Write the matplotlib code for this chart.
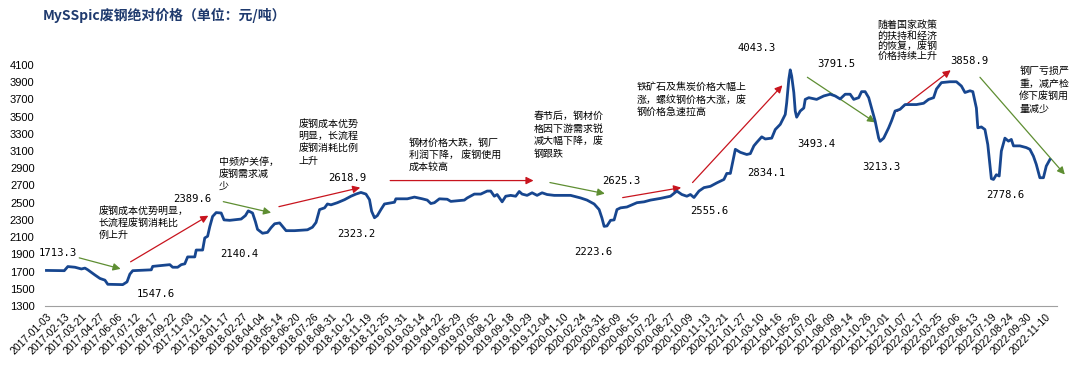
import matplotlib.pyplot as plt
from matplotlib.patches import FancyArrowPatch

# trading-day index (25 days between date labels) and price, yuan/ton
days = [0, 25, 30, 40, 49, 54, 58, 68, 75, 82, 86, 107, 113, 117, 121, 147, 149, 161, 173, 177,
        184, 189, 194, 198, 208, 210, 219, 222, 226, 229, 233, 238, 245, 249, 257, 273, 279, 283,
        289, 293, 296, 303, 310, 315, 320, 327, 331, 336, 348, 366, 373, 378, 383, 390, 394, 399,
        408, 418, 427, 434, 441, 448, 453, 456, 460, 464, 469, 474, 488, 490, 506, 516, 527, 534,
        539, 544, 551, 562, 567, 586, 590, 600, 609, 618, 623, 628, 632, 639, 644, 651, 658, 663,
        667, 674, 681, 688, 695, 702, 712, 735, 749, 758, 768, 775, 779, 782, 786, 791, 796, 800,
        805, 814, 821, 828, 838, 847, 861, 875, 884, 891, 898, 903, 908, 915, 922, 931, 940, 950,
        954, 959, 963, 966, 973, 982, 987, 992, 996, 1003, 1008, 1017, 1022, 1029, 1036, 1038,
        1041, 1043, 1045, 1048, 1050, 1052, 1057, 1062, 1064, 1069, 1080, 1090, 1099, 1106, 1113,
        1120, 1127, 1132, 1139, 1143, 1148, 1153, 1157, 1162, 1167, 1169, 1174, 1181, 1185, 1190,
        1197, 1204, 1220, 1230, 1237, 1244, 1248, 1255, 1267, 1276, 1283, 1288, 1295, 1299, 1304,
        1306, 1311, 1316, 1320, 1325, 1328, 1332, 1336, 1339, 1344, 1349, 1353, 1356, 1365, 1374,
        1379, 1384, 1388, 1393, 1398, 1402, 1407]
prices = [1713, 1710, 1758, 1750, 1730, 1740, 1720, 1660, 1620, 1600, 1552, 1548, 1580, 1670, 1710,
          1720, 1760, 1770, 1780, 1750, 1750, 1780, 1790, 1870, 1870, 1950, 1950, 2090, 2110, 2220,
          2340, 2385, 2380, 2300, 2295, 2310, 2350, 2405, 2380, 2280, 2190, 2145, 2155, 2210, 2255,
          2265, 2225, 2175, 2175, 2185, 2215, 2270, 2420, 2440, 2485, 2475, 2500, 2535, 2575, 2600,
          2619, 2600, 2535, 2400, 2325, 2350, 2420, 2485, 2505, 2545, 2545, 2565, 2545, 2530, 2490,
          2500, 2545, 2540, 2515, 2530, 2555, 2600, 2600, 2635, 2635, 2575, 2595, 2510, 2575, 2585,
          2575, 2630, 2600, 2585, 2615, 2585, 2615, 2595, 2585, 2585, 2555, 2530, 2485, 2420, 2320,
          2225, 2230, 2295, 2300, 2420, 2440, 2450, 2475, 2500, 2510, 2530, 2550, 2575, 2635, 2595,
          2575, 2595, 2560, 2635, 2675, 2690, 2730, 2770, 2840, 2840, 3000, 3120, 3085, 3060, 3070,
          3160, 3200, 3265, 3240, 3250, 3350, 3410, 3525, 3660, 3935, 4043, 3970, 3780, 3565, 3493,
          3565, 3600, 3700, 3720, 3700, 3740, 3760, 3740, 3705, 3760, 3760, 3700, 3720, 3790, 3790,
          3720, 3600, 3450, 3250, 3213, 3250, 3370, 3450, 3565, 3585, 3640, 3640, 3655, 3700, 3720,
          3820, 3895, 3905, 3905, 3855, 3780, 3800, 3790, 3600, 3370, 3380, 3350, 3175, 2779, 2770,
          2825, 2810, 3100, 3250, 3215, 3235, 3160, 3160, 3140, 3120, 3040, 2945, 2790, 2790, 2925,
          3000]

date_labels = ['2017-01-03', '2017-02-13', '2017-03-21', '2017-04-27', '2017-06-06', '2017-07-12',
               '2017-08-17', '2017-09-22', '2017-11-03', '2017-12-11', '2018-01-17', '2018-02-27',
               '2018-04-04', '2018-05-14', '2018-06-20', '2018-07-26', '2018-08-31', '2018-10-12',
               '2018-11-19', '2018-12-25', '2019-01-31', '2019-03-14', '2019-04-22', '2019-05-29',
               '2019-07-05', '2019-08-12', '2019-09-18', '2019-10-29', '2019-12-04', '2020-01-10',
               '2020-02-24', '2020-03-31', '2020-05-09', '2020-06-15', '2020-07-22', '2020-08-27',
               '2020-10-09', '2020-11-13', '2020-12-21', '2021-01-27', '2021-03-10', '2021-04-16',
               '2021-05-26', '2021-07-02', '2021-08-09', '2021-09-14', '2021-10-26', '2021-12-01',
               '2022-01-07', '2022-02-17', '2022-03-25', '2022-05-06', '2022-06-13', '2022-07-19',
               '2022-08-24', '2022-09-30', '2022-11-10']

# value labels: text, day, price position
point_labels = [('1713.3', 16, 1918), ('1547.6', 153, 1440), ('2389.6', 204, 2547),
                ('2140.4', 270, 1906), ('2618.9', 422, 2792), ('2323.2', 435, 2139),
                ('2625.3', 806, 2757), ('2223.6', 767, 1929), ('2555.6', 930, 2407),
                ('2834.1', 1009, 2850), ('4043.3', 996, 4295), ('3493.4', 1080, 3176),
                ('3791.5', 1107, 4109), ('3213.3', 1171, 2920), ('3858.9', 1294, 4144),
                ('2778.6', 1345, 2594)]

notes = [('废钢成本优势明显，\n长流程废钢消耗比\n例上升', 73, 2465, 1.25),
         ('中频炉关停，\n废钢需求减\n少', 242, 3037, 1.3),
         ('废钢成本优势\n明显，长流程\n废钢消耗比例\n上升', 353, 3479, 1.3),
         ('钢材价格大跌，钢厂\n利润下降， 废钢使用\n成本较高', 508, 3258, 1.3),
         ('春节后，钢材价\n格因下游需求锐\n减大幅下降，废\n钢跟跌', 683, 3561, 1.3),
         ('铁矿石及焦炭价格大幅上\n涨，螺纹钢价格大涨，废\n钢价格急速拉高', 827, 3899, 1.3),
         ('随着国家政策\n的扶持和经济\n的恢复，废钢\n价格持续上升', 1165, 4622, 1.05),
         ('钢厂亏损严\n重，减产检\n修下废钢用\n量减少', 1364, 4086, 1.3)]

red = '#C8141E'
green = '#5E8E32'
arrows = [((46, 1859), (104, 1731), green), ((118, 1813), (227, 2349), red),
          ((248, 2512), (315, 2384), green), ((326, 2454), (440, 2675), red),
          ((482, 2757), (683, 2757), red), ((706, 2734), (783, 2605), green),
          ((808, 2559), (890, 2675), red), ((906, 2734), (1032, 3864), red),
          ((1067, 3957), (1162, 3433), green), ((1193, 3561), (1268, 4039), red),
          ((1309, 3957), (1428, 2827), green)]

cjk = ['Noto Sans CJK SC', 'DejaVu Sans']

fig = plt.figure(figsize=(10.77, 3.66), dpi=100)
ax = fig.add_axes([0.0418, 0.164, 0.9396, 0.6585])

ax.plot(days, prices, color='#17468F', lw=2.0, solid_joinstyle='round')

ax.set_xlim(-2, 1417)
ax.set_ylim(1300, 4100)
ax.set_yticks(range(1300, 4101, 200))
ax.set_xticks([25 * i for i in range(len(date_labels))])
ax.set_xticklabels(date_labels, rotation=45, ha='right', rotation_mode='anchor',
                   fontsize=7.5, family='Liberation Sans')
for t in ax.get_yticklabels():
    t.set_family('Liberation Sans')
    t.set_fontsize(8)
ax.tick_params(axis='x', length=0, pad=4)
ax.tick_params(axis='y', length=0, pad=7.5)
for s in ['top', 'right', 'left']:
    ax.spines[s].set_visible(False)
ax.spines['bottom'].set_color('#A0A0A0')

for txt, d, v in point_labels:
    ax.text(d, v, txt, ha='center', va='center', fontsize=7.6, family='DejaVu Sans Mono')

for txt, d, v, ls in notes:
    ax.text(d, v, txt, ha='left', va='top', fontsize=7.2, family=cjk, linespacing=ls)

for start, end, c in arrows:
    ax.add_patch(FancyArrowPatch(start, end, arrowstyle='-|>', mutation_scale=11,
                                 color=c, lw=0.9, clip_on=False, shrinkA=0, shrinkB=0))

fig.text(0.040, 0.957, 'MySSpic废钢绝对价格（单位：元/吨）', fontsize=10, fontweight='bold',
         color='#1F3A6E', family=cjk, va='center', ha='left')

fig.savefig('out.png', dpi=100)
